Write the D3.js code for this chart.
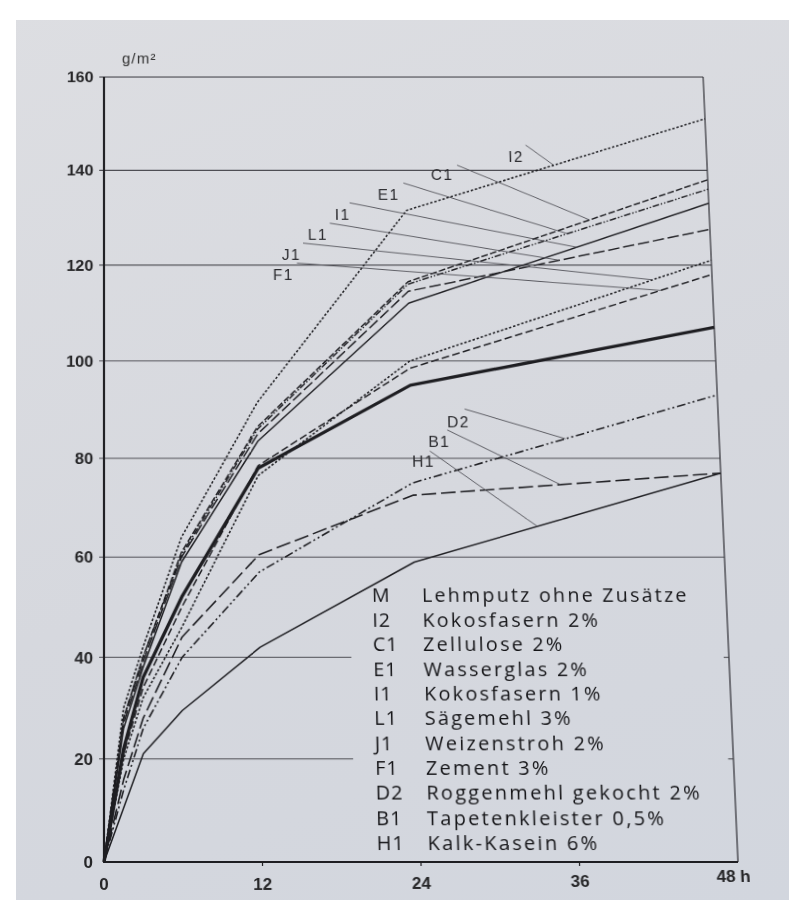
<!DOCTYPE html>
<html><head><meta charset="utf-8">
<script src="https://cdn.jsdelivr.net/npm/d3@7"></script>
<style>
html,body{margin:0;padding:0;}
body{width:789px;height:900px;overflow:hidden;background:linear-gradient(160deg,#dddee2 0%,#d6d8de 55%,#d2d6de 100%);position:relative;}
#topband{position:absolute;left:0;top:0;width:789px;height:20px;background:#fff;}
#leftband{position:absolute;left:0;top:0;width:16px;height:900px;background:#fff;}
#chart{position:absolute;left:0;top:0;transform-origin:104px 862px;transform:perspective(1249px) rotateX(5deg);}
</style></head><body>
<div id="topband"></div><div id="leftband"></div>
<svg id="chart" width="789" height="900"></svg>
<script>
// ---- data ----
const hours = [0, 1.5, 3, 6, 12, 24, 48];
const codes = ["M","I2","C1","E1","I1","L1","J1","F1","D2","B1","H1"];
const names = ["Lehmputz ohne Zusätze","Kokosfasern 2%","Zellulose 2%","Wasserglas 2%","Kokosfasern 1%",
  "Sägemehl 3%","Weizenstroh 2%","Zement 3%","Roggenmehl gekocht 2%","Tapetenkleister 0,5%","Kalk-Kasein 6%"];
const valuesM  = [0, 22, 36, 52, 78, 95, 107];
const valuesI2 = [0, 30, 42, 64, 91.5, 131.5, 151];
const valuesC1 = [0, 28, 40, 61, 86.5, 116.5, 138];
const valuesE1 = [0, 28, 40, 60.5, 86, 116, 136];
const valuesI1 = [0, 26, 38, 59, 83.5, 112, 133];
const valuesL1 = [0, 27, 39, 60, 85, 114.5, 127.5];
const valuesJ1 = [0, 20, 32, 46, 76.5, 100, 121];
const valuesF1 = [0, 21, 34, 50, 78.5, 98.5, 118];
const valuesD2 = [0, 14, 26, 40, 57, 75, 93];
const valuesB1 = [0, 16, 28, 44, 60.5, 72.5, 77];
const valuesH1 = [0, 10.5, 21, 29.5, 42, 59, 77];
const yTicks = [0, 20, 40, 60, 80, 100, 120, 140, 160];
const xTicks = [0, 12, 24, 36, 48];
const xTickLabels = ["0", "12", "24", "36", "48 h"];
// curve labels: [code, label hour, label value, leader start hour, leader start value, leader end hour]
const curveLabels = [
  ["I2", 32.2, 141.8, 33.6, 145.4, 35.8],
  ["C1", 26.0, 138.0, 28.1, 141.1, 38.5],
  ["E1", 21.75, 133.7, 23.8, 137.3, 36.7],
  ["I1", 18.3, 129.5, 19.5, 133.1, 37.4],
  ["L1", 16.15, 125.3, 17.9, 128.8, 36.0],
  ["J1", 14.07, 121.1, 15.75, 124.6, 43.3],
  ["F1", 13.34, 116.9, 15.25, 120.4, 43.9],
  ["D2", 26.8, 86.4, 28.2, 90.1, 36.0],
  ["B1", 25.3, 82.3, 26.8, 85.8, 35.5],
  ["H1", 24.0, 78.2, 25.4, 81.5, 33.6]
];
const seriesValues = {M:valuesM,I2:valuesI2,C1:valuesC1,E1:valuesE1,I1:valuesI1,L1:valuesL1,
  J1:valuesJ1,F1:valuesF1,D2:valuesD2,B1:valuesB1,H1:valuesH1};

// ---- styles ----
const ink = "#1e1e22";
const lineStyle = {
  M:{w:3.4,dash:null}, I2:{w:1.6,dash:"2.5,2"}, C1:{w:1.5,dash:"7,2.5"}, E1:{w:1.5,dash:"7,2,1.5,2,1.5,2"},
  I1:{w:1.5,dash:null}, L1:{w:1.5,dash:"12,4"}, J1:{w:1.6,dash:"2.5,2"}, F1:{w:1.5,dash:"8,3.5"},
  D2:{w:1.6,dash:"9,3,2,3,2,3"}, B1:{w:1.6,dash:"15,5"}, H1:{w:1.5,dash:null}
};
const xLabelLift = [0, 0, 1, 3, 8];

const svg = d3.select("#chart");
const x = d3.scaleLinear().domain([0, 48]).range([104, 738]);
const y = d3.scaleLinear().domain([0, 160]).range([862, 28.1]);

// grid lines
const g = svg.append("g");
yTicks.filter(v => v > 0).forEach(v => {
  const short = (v === 20 || v === 40);
  g.append("line").attr("x1", x(0) - 5).attr("x2", short ? x(19) : x(48))
    .attr("y1", y(v)).attr("y2", y(v)).attr("stroke", "#4a4a50").attr("stroke-width", 1.1);
  if (short) g.append("line").attr("x1", x(47.6)).attr("x2", x(48)).attr("y1", y(v)).attr("y2", y(v))
    .attr("stroke", "#4a4a50").attr("stroke-width", 1.1);
});
// frame
g.append("line").attr("x1", x(48)).attr("x2", x(48)).attr("y1", y(0)).attr("y2", y(160))
  .attr("stroke", "#3a3a40").attr("stroke-width", 1.3);
g.append("line").attr("x1", x(0)).attr("x2", x(0)).attr("y1", y(0)).attr("y2", y(160))
  .attr("stroke", ink).attr("stroke-width", 2.2);
g.append("line").attr("x1", x(0) - 1).attr("x2", x(48)).attr("y1", y(0)).attr("y2", y(0))
  .attr("stroke", ink).attr("stroke-width", 2.2);
xTicks.filter(t => t > 0 && t < 48).forEach(t => {
  g.append("line").attr("x1", x(t)).attr("x2", x(t)).attr("y1", y(0)).attr("y2", y(0) + 4)
    .attr("stroke", ink).attr("stroke-width", 1.2);
});

// axis labels
const axisFont = "'Liberation Sans', Arial, sans-serif";
svg.append("g").selectAll("text").data(yTicks).join("text")
  .attr("x", x(0) - 11).attr("y", d => y(d) + 6).attr("text-anchor", "end")
  .attr("font-family", axisFont).attr("font-size", 17).attr("font-weight", "bold").attr("fill", "#262628")
  .text(d => d);
svg.append("g").selectAll("text").data(xTicks).join("text")
  .attr("x", (d, i) => i === 4 ? x(d) - 22 : x(d)).attr("y", (d, i) => y(0) + 28 - xLabelLift[i])
  .attr("text-anchor", (d, i) => i === 4 ? "start" : "middle")
  .attr("font-family", axisFont).attr("font-size", 17).attr("font-weight", "bold").attr("fill", "#262628")
  .text((d, i) => xTickLabels[i]);
svg.append("text").attr("x", x(0) + 19).attr("y", y(160) - 15)
  .attr("font-family", axisFont).attr("font-size", 16).attr("letter-spacing", 1.2).attr("fill", "#333").text("g/m²");

// curves
const line = d3.line().x(d => x(d[0])).y(d => y(d[1]));
const curveOrder = ["H1","B1","D2","F1","J1","L1","I1","E1","C1","I2","M"];
svg.append("g").selectAll("path").data(curveOrder).join("path")
  .attr("d", c => line(hours.map((h, i) => [h, seriesValues[c][i]])))
  .attr("fill", "none").attr("stroke", ink)
  .attr("stroke-width", c => lineStyle[c].w)
  .attr("stroke-dasharray", c => lineStyle[c].dash)
  .attr("stroke-linejoin", "round");

// leaders and curve labels
const interp = c => d3.scaleLinear().domain(hours).range(seriesValues[c]);
const ann = svg.append("g");
curveLabels.forEach(([c, lt, lv, st, sv, et]) => {
  ann.append("line").attr("x1", x(st)).attr("y1", y(sv)).attr("x2", x(et)).attr("y2", y(interp(c)(et)))
    .attr("stroke", "#4a4a50").attr("stroke-width", 0.9);
  ann.append("text").attr("x", x(lt)).attr("y", y(lv)).attr("font-family", axisFont)
    .attr("font-size", 16).attr("letter-spacing", 1.5).attr("fill", "#2a2a2e").text(c);
});

// legend
const leg = svg.append("g").attr("font-family", "'Open Sans', 'Noto Sans', sans-serif")
  .attr("font-size", 20).attr("fill", "#151518").attr("letter-spacing", 2.3);
codes.forEach((c, i) => {
  const yy = 596.5 + i * 25.35;
  leg.append("text").attr("x", 377).attr("y", yy).attr("letter-spacing", 1).text(c);
  leg.append("text").attr("x", 428).attr("y", yy).text(names[i]);
});
</script>
</body></html>
